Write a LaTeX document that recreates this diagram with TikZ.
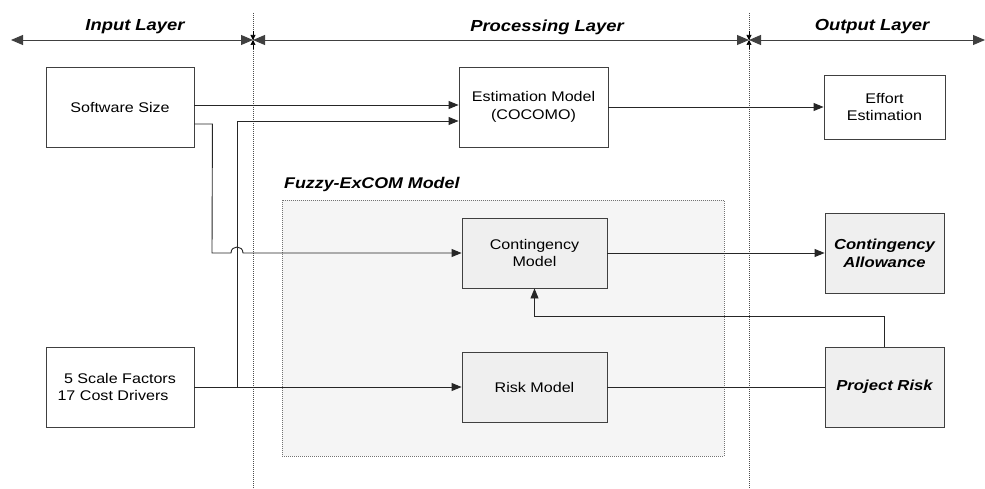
\documentclass[tikz,border=0pt]{standalone}
\usepackage{fontspec}
\setmainfont{Liberation Sans}[FakeStretch=1.15]
\usetikzlibrary{arrows.meta}
\definecolor{boxgray}{HTML}{EFEFEF}
\definecolor{zonegray}{HTML}{F5F5F5}
\definecolor{linegray}{HTML}{404040}
\begin{document}
\begin{tikzpicture}[x=1pt,y=-1pt,
  box/.style={draw=linegray, line width=0.9pt, fill=white, inner sep=0pt, align=center,
              font=\fontsize{14}{17.5}\selectfont},
  gbox/.style={box, fill=boxgray},
  bbox/.style={gbox, font=\fontsize{14.5}{18}\selectfont\bfseries\itshape},
  conn/.style={draw=black!85, line width=0.9pt},
  arr/.style={conn, -{Triangle[length=10pt,width=8pt]}},
  harr/.style={draw=linegray, line width=0.9pt, {Triangle[length=12pt,width=10pt]}-{Triangle[length=12pt,width=10pt]}},
  vtip/.style={draw=black, line width=0.6pt, -{Triangle[length=5pt,width=5pt]}},
  head/.style={font=\fontsize{16}{19}\selectfont\bfseries\itshape},
  divider/.style={draw=black!70, line width=0.8pt, dash pattern=on 1pt off 1pt},
]
\useasboundingbox (0,0) rectangle (985,489);

% layer header
\coordinate (hl) at (11,40);
\coordinate (d1) at (253,40);
\coordinate (d2) at (749,40);
\coordinate (hr) at (985,40);
\coordinate (d1t) at (253,13);
\coordinate (d1b) at (253,489);
\coordinate (d2t) at (749,13);
\coordinate (d2b) at (749,489);
\coordinate (d1u) at (253,31);
\coordinate (d1l) at (253,49);
\coordinate (d2u) at (749,31);
\coordinate (d2l) at (749,49);

\draw[divider] (d1t) -- (d1b);
\draw[divider] (d2t) -- (d2b);
\draw[harr] (hl) -- (d1);
\draw[harr] (d1) -- (d2);
\draw[harr] (d2) -- (hr);
\draw[vtip] (d1u) -- (d1);
\draw[vtip] (d1l) -- (d1);
\draw[vtip] (d2u) -- (d2);
\draw[vtip] (d2l) -- (d2);

\node[head] (hin) at (135,27) {Input Layer};
\node[head] (hpr) at (547,27) {Processing Layer};
\node[head] (hout) at (872,27) {Output Layer};

% Fuzzy-ExCOM zone
\node[draw=black!55, line width=0.7pt, dash pattern=on 1pt off 1pt, fill=zonegray,
      minimum width=442pt, minimum height=256pt, inner sep=0pt] (fz) at (503,328) {};
\node[head, font=\fontsize{15.5}{18}\selectfont\bfseries\itshape, anchor=west, inner sep=0pt] (fzl) at (284,184) {Fuzzy-ExCOM Model};

% boxes
\node[box, minimum width=148pt, minimum height=80pt] (ss) at (120,107) {Software Size};
\node[box, minimum width=148pt, minimum height=80pt] (sc) at (120,387) {5 Scale Factors\\17 Cost Drivers\hspace*{14pt}};
\node[box, minimum width=149pt, minimum height=80pt] (em) at (533.5,107) {Estimation Model\\(COCOMO)};
\node[box, minimum width=121pt, minimum height=64pt] (ee) at (884.5,107) {Effort\\Estimation};
\node[gbox, minimum width=145pt, minimum height=70pt] (cm) at (534.5,253) {Contingency\\Model};
\node[gbox, minimum width=145pt, minimum height=70pt] (rm) at (534.5,387) {Risk Model};
\node[bbox, minimum width=119pt, minimum height=80pt] (ca) at (884.5,253) {Contingency\\Allowance};
\node[bbox, minimum width=119pt, minimum height=80pt] (pr) at (884.5,387) {Project Risk};

% connectors
\draw[arr] ([yshift=2pt]ss.east) -- ([yshift=2pt]em.west);
\draw[arr] (sc.east) -- ++(43,0) |- ([yshift=-14pt]em.west);
\draw[arr] (sc.east) -- (rm.west);
\draw[arr] ([yshift=-17pt]ss.east) -- ++(18,0) -- (212,253) -- (231,253)
   .. controls (231,245) and (243,245) .. (243,253) -- (cm.west);
\draw[arr] (em.east) -- (ee.west);
\draw[arr] (cm.east) -- (ca.west);
\draw[conn] (rm.east) -- (pr.west);
\draw[arr] (pr.north) -- ++(0,-30) -| (cm.south);
\end{tikzpicture}
\end{document}
